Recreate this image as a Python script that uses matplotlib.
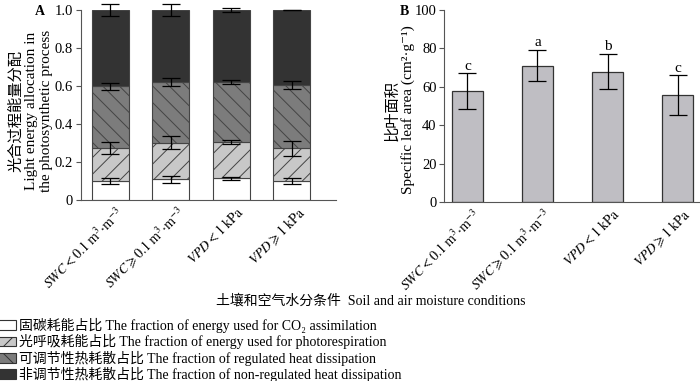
import numpy as np
import matplotlib
matplotlib.use("Agg")
import matplotlib.pyplot as plt
import matplotlib.transforms as mtransforms
from matplotlib.patches import Patch

plt.rcParams['font.family'] = ['Liberation Serif', 'Noto Sans CJK SC', 'DejaVu Serif']
plt.rcParams['mathtext.fontset'] = 'stix'
plt.rcParams['hatch.linewidth'] = 0.7

# conditions
conditions = [
    r'$SWC < 0.1\ \mathrm{m^{3}{\cdot}m^{-3}}$',
    r'$SWC \geqslant 0.1\ \mathrm{m^{3}{\cdot}m^{-3}}$',
    r'$VPD < 1\ \mathrm{kPa}$',
    r'$VPD \geqslant 1\ \mathrm{kPa}$',
]

# panel A: light energy allocation (fractions)
co2_frac = [0.100, 0.109, 0.114, 0.100]
co2_err = [0.017, 0.018, 0.007, 0.018]
photoresp_frac = [0.172, 0.193, 0.190, 0.172]
photoresp_err = [0.031, 0.033, 0.011, 0.039]
reg_frac = [0.326, 0.318, 0.315, 0.331]
reg_err = [0.020, 0.020, 0.011, 0.021]
nonreg_frac = [0.402, 0.380, 0.381, 0.397]
nonreg_err = [0.030, 0.033, 0.011, 0.0]

# panel B: specific leaf area
sla = [57.5, 70.9, 67.8, 55.5]
sla_err = [9.4, 8.1, 9.1, 10.3]
sla_letters = ['c', 'a', 'b', 'c']

legend_labels = [
    '固碳耗能占比 The fraction of energy used for CO₂ assimilation',
    '光呼吸耗能占比 The fraction of energy used for photorespiration',
    '可调节性热耗散占比 The fraction of regulated heat dissipation',
    '非调节性热耗散占比 The fraction of non-regulated heat dissipation',
]

colors = ['white', '#c8c8c8', '#7c7c7c', '#333333']
hatches = ['', '//', '\\\\', '']
edge = '#444444'

fig = plt.figure(figsize=(7.0, 3.81), dpi=100)
axA = fig.add_axes([0.1153, 0.4751, 0.3647, 0.4987])
axB = fig.add_axes([0.6347, 0.4698, 0.3653, 0.5052])

x = np.arange(len(conditions))
errkw = dict(ecolor='black', elinewidth=0.9, capsize=6.5, capthick=0.9)

bottom = np.zeros(len(conditions))
parts = [(co2_frac, co2_err), (photoresp_frac, photoresp_err),
         (reg_frac, reg_err), (nonreg_frac, nonreg_err)]
for (vals, errs), c, h in zip(parts, colors, hatches):
    vals = np.array(vals)
    axA.bar(x, vals, width=0.61, bottom=bottom, color=c, hatch=h,
            edgecolor=edge, linewidth=0.8, zorder=2)
    top = bottom + vals
    eb = axA.errorbar(x, top, yerr=errs, fmt='none', zorder=3, **errkw)
    for art in eb.lines[1] + eb.lines[2]:
        art.set_clip_on(False)
    bottom = top

axA.set_xlim(-0.49, 3.73)
axA.set_ylim(0, 1.0)
axA.set_yticks([0, 0.2, 0.4, 0.6, 0.8, 1.0])
axA.set_yticklabels(['0', '0.2', '0.4', '0.6', '0.8', '1.0'])
axA.set_ylabel('光合过程能量分配\nLight energy allocation in\nthe photosynthetic process',
               fontsize=11, linespacing=1.2, va='center')
axA.yaxis.set_label_coords(-0.195, 0.47)

axB.bar(x, sla, width=0.45, color='#bfbec3', edgecolor='#333333',
        linewidth=0.9, zorder=2)
eb = axB.errorbar(x, sla, yerr=sla_err, fmt='none', zorder=3, **errkw)
for xi, v, e, lab in zip(x, sla, sla_err, sla_letters):
    axB.text(xi, v + e + 0.3, lab, ha='center', va='bottom', fontsize=11)
axB.set_xlim(-0.33, 3.32)
axB.set_ylim(0, 100)
axB.set_yticks([0, 20, 40, 60, 80, 100])
axB.set_ylabel('比叶面积\nSpecific leaf area (cm²·g⁻¹)', fontsize=11,
               linespacing=1.2, va='center')
axB.yaxis.set_label_coords(-0.173, 0.478)

shift = mtransforms.ScaledTranslation(5 / 100, 0, fig.dpi_scale_trans)
for ax in (axA, axB):
    ax.spines['top'].set_visible(False)
    ax.spines['right'].set_visible(False)
    ax.spines['left'].set_color('#555555')
    ax.spines['bottom'].set_color('#555555')
    ax.tick_params(axis='y', direction='out', length=3.5, width=0.8,
                   color='#555555', labelsize=10.5, pad=2)
    ax.tick_params(axis='x', length=0, pad=3)
    ax.set_xticks(x)
    ax.set_xticklabels(conditions, rotation=45, ha='right',
                       rotation_mode='anchor', fontsize=10)
    for lbl in ax.get_xticklabels():
        lbl.set_transform(lbl.get_transform() + shift)

fig.text(0.05, 0.987, 'A', fontsize=10, fontweight='bold', va='top')
fig.text(0.571, 0.987, 'B', fontsize=10, fontweight='bold', va='top')

fig.text(0.53, 0.212, '土壤和空气水分条件  Soil and air moisture conditions',
         ha='center', va='center', fontsize=10)

handles = [Patch(facecolor=c, hatch=h, edgecolor='#333333', linewidth=0.8)
           for c, h in zip(colors, hatches)]
fig.legend(handles, legend_labels, loc='upper left', bbox_to_anchor=(-0.003, 0.165),
           frameon=False, fontsize=10, handlelength=1.3, handleheight=0.7,
           handletextpad=0.2, labelspacing=0.08, borderaxespad=0.0,
           borderpad=0.0)

fig.savefig('out.png', dpi=100)
